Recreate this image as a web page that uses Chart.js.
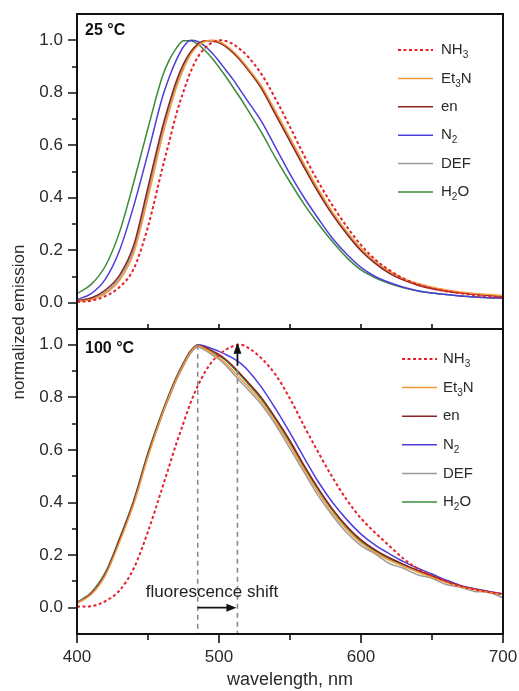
<!DOCTYPE html>
<html><head><meta charset="utf-8">
<script src="https://cdn.jsdelivr.net/npm/chart.js@4"></script>
<style>
html,body{margin:0;padding:0;background:#fff;}
#wrap{position:relative;width:519px;height:691px;}
canvas{position:absolute;left:0;top:0;}
</style></head><body>
<div id="wrap"><canvas id="c1" width="519" height="691"></canvas><canvas id="c2" width="519" height="691"></canvas></div>
<script>
// ---- data ----
const wavelengths = [400,410,420,430,440,450,460,465,470,475,480,485,490,495,500,505,510,515,520,530,540,550,560,570,580,590,600,610,620,630,640,650,660,670,680,690,700];
const seriesNames = ['NH₃','Et₃N','en','N₂','DEF','H₂O'];
const panelTitles = ['25 °C','100 °C'];

// 25 °C panel
const t25_NH3 = [.003,.008,.025,.06,.13,.29,.51, .615,.72,.805,.88,.935,.97,.99,1.0,.997,.985,.965,.94, .87,.775,.67,.56,.46,.37,.29,.22,.165,.124,.092,.07,.055,.044,.036,.029,.024,.02];
const t25_Et3N = [.005,.012,.035,.085,.19,.40,.63, .73,.82,.89,.945,.978,.995,1.0,.995,.98,.958,.93,.897, .825,.728,.628,.528,.432,.345,.272,.208,.158,.12,.092,.073,.059,.049,.041,.035,.031,.028];
const t25_en   = [.008,.018,.048,.105,.22,.44,.665, .76,.845,.91,.955,.985,.998,.998,.99,.975,.952,.924,.89, .815,.715,.615,.515,.42,.335,.262,.198,.15,.112,.086,.067,.053,.044,.037,.032,.028,.025];
const t25_N2   = [.012,.035,.09,.2,.37,.57,.78, .86,.925,.975,1.0,.995,.978,.952,.92,.885,.85,.81,.77, .69,.59,.49,.40,.32,.245,.185,.135,.10,.077,.059,.046,.037,.031,.026,.022,.019,.017];
const t25_DEF  = [.006,.015,.04,.095,.205,.42,.648, .745,.833,.9,.95,.982,.997,.999,.993,.978,.955,.927,.893, .82,.722,.622,.522,.426,.34,.267,.203,.154,.116,.089,.07,.056,.046,.039,.033,.029,.026];
const t25_H2O  = [.035,.07,.14,.27,.46,.665,.86, .925,.97,.998,.998,.985,.962,.932,.897,.86,.82,.78,.737, .648,.55,.46,.375,.30,.232,.172,.125,.095,.073,.057,.045,.037,.031,.026,.022,.019,.017];

// 100 °C panel
const t100_NH3 = [.004,.006,.025,.066,.15,.29,.455, .54,.625,.703,.78,.843,.895,.935,.962,.982,.995,1.0,.99, .948,.885,.795,.69,.59,.495,.41,.34,.285,.235,.186,.148,.122,.10,.082,.07,.06,.052];
const t100_Et3N = [.017,.05,.123,.25,.395,.575,.735, .805,.87,.925,.972,.996,.985,.968,.95,.928,.9,.872,.843, .782,.705,.618,.525,.438,.36,.297,.246,.21,.18,.157,.135,.116,.096,.08,.068,.058,.05];
const t100_en   = [.018,.053,.128,.258,.403,.582,.738, .808,.873,.928,.975,.998,.99,.978,.963,.943,.918,.89,.86, .798,.72,.635,.54,.453,.375,.31,.258,.22,.19,.165,.142,.122,.10,.083,.07,.06,.05];
const t100_N2   = [.018,.053,.128,.258,.403,.582,.738, .808,.873,.928,.975,1.0,.995,.985,.975,.962,.948,.93,.905, .838,.755,.665,.57,.478,.40,.335,.28,.238,.205,.175,.15,.128,.105,.085,.072,.062,.052];
const t100_DEF  = [.018,.055,.13,.258,.40,.578,.733, .80,.865,.92,.968,.992,.98,.962,.945,.92,.89,.86,.832, .772,.695,.605,.515,.425,.35,.285,.236,.205,.168,.15,.125,.112,.088,.078,.062,.058,.038];
const t100_H2O  = [.02,.058,.135,.265,.41,.59,.745, .815,.878,.932,.977,.998,.988,.972,.958,.94,.913,.885,.855, .792,.715,.628,.535,.448,.37,.305,.253,.216,.186,.162,.14,.12,.099,.082,.07,.06,.05];

const yTickValues = [0,0.2,0.4,0.6,0.8,1.0];
const yMinorValues = [0.1,0.3,0.5,0.7,0.9];
const xTickValues = [400,500,600,700];
const xMinorValues = [450,550,650];
const shiftFrom = 485, shiftTo = 513, shiftArrowBase = 0.92;
const shiftLabel = 'fluorescence shift';

// ---- styles ----
const FONT = "'Liberation Sans', Arial, Helvetica, sans-serif";
const colors = ['#e5202a','#f39a3a','#8a2424','#4d3ddc','#9a9a9a','#3b8a3b'];
const dashes = [[3,2.5],[],[],[],[],[]];
const widths = [2,1.5,1.5,1.5,1.5,1.5];

Chart.defaults.font.family = FONT;
Chart.defaults.color = '#2a2a2a';

const SUB = '₀₁₂₃₄₅₆₇₈₉';
function drawRich(ctx, text, x, y, size, weight) {
  let cx = x;
  ctx.textBaseline = 'middle';
  ctx.textAlign = 'left';
  for (const ch of text) {
    const k = SUB.indexOf(ch);
    if (k >= 0) {
      ctx.font = `${weight||''} ${Math.round(size*0.68)}px ${FONT}`;
      ctx.fillText(String(k), cx, y + size*0.36);
      cx += ctx.measureText(String(k)).width;
    } else {
      ctx.font = `${weight||''} ${size}px ${FONT}`;
      ctx.fillText(ch, cx, y);
      cx += ctx.measureText(ch).width;
    }
  }
}

function makeDatasets(arrays) {
  return arrays.map((arr, i) => ({
    label: seriesNames[i],
    data: wavelengths.map((w, j) => ({x: w, y: arr[j]})),
    borderColor: colors[i],
    borderWidth: widths[i],
    borderDash: dashes[i],
    pointRadius: 0,
    fill: false,
    cubicInterpolationMode: 'monotone'
  }));
}

const framePlugin = {
  id: 'frame',
  afterDraw(chart, args, o) {
    const {ctx, chartArea: a} = chart;
    const xs = chart.scales.x, ys = chart.scales.y;
    ctx.save();
    ctx.strokeStyle = '#111';
    ctx.lineWidth = 2;
    ctx.strokeRect(a.left, a.top, a.right - a.left, a.bottom - a.top);
    ctx.lineWidth = 1.6;
    ctx.beginPath();
    yTickValues.forEach(v => { const p = Math.round(ys.getPixelForValue(v)); ctx.moveTo(a.left - 9, p); ctx.lineTo(a.left, p); });
    yMinorValues.forEach(v => { const p = Math.round(ys.getPixelForValue(v)); ctx.moveTo(a.left - 5, p); ctx.lineTo(a.left, p); });
    if (o.bottom) {
      xTickValues.forEach(v => { const p = Math.round(xs.getPixelForValue(v)); ctx.moveTo(p, a.bottom); ctx.lineTo(p, a.bottom + 9); });
      xMinorValues.forEach(v => { const p = Math.round(xs.getPixelForValue(v)); ctx.moveTo(p, a.bottom); ctx.lineTo(p, a.bottom + 6); });
    }
    if (o.inner) {
      xTickValues.concat(xMinorValues).forEach(v => {
        if (v === 400 || v === 700) return;
        const p = Math.round(xs.getPixelForValue(v)); ctx.moveTo(p, a.bottom - 5); ctx.lineTo(p, a.bottom);
      });
    }
    ctx.stroke();
    ctx.restore();
  }
};

const legendPlugin = {
  id: 'inlegend',
  afterDatasetsDraw(chart, args, o) {
    const {ctx, chartArea: a} = chart;
    ctx.save();
    ctx.fillStyle = '#2a2a2a';
    chart.data.datasets.forEach((ds, i) => {
      const y = a.top + o.top + i * o.gap;
      ctx.strokeStyle = ds.borderColor;
      ctx.lineWidth = ds.borderWidth;
      ctx.setLineDash(ds.borderDash || []);
      ctx.beginPath(); ctx.moveTo(o.x0, y); ctx.lineTo(o.x1, y); ctx.stroke();
      ctx.setLineDash([]);
      drawRich(ctx, ds.label, o.tx, y, 15);
    });
    ctx.fillStyle = '#111';
    drawRich(ctx, o.title, a.left + 8, a.top + o.titleY, 16, 'bold');
    ctx.restore();
  }
};

const shiftPlugin = {
  id: 'shift',
  afterDatasetsDraw(chart) {
    const {ctx, chartArea: a} = chart;
    const xs = chart.scales.x, ys = chart.scales.y;
    const x1 = xs.getPixelForValue(shiftFrom), x2 = xs.getPixelForValue(shiftTo);
    ctx.save();
    ctx.strokeStyle = '#8a8a8a'; ctx.lineWidth = 1.6; ctx.setLineDash([5,4]);
    ctx.beginPath();
    ctx.moveTo(x1, ys.getPixelForValue(1.0)); ctx.lineTo(x1, a.bottom);
    ctx.moveTo(x2, ys.getPixelForValue(shiftArrowBase) + 4); ctx.lineTo(x2, a.bottom);
    ctx.stroke();
    ctx.setLineDash([]);
    ctx.strokeStyle = '#111'; ctx.fillStyle = '#111'; ctx.lineWidth = 1.8;
    const y0 = ys.getPixelForValue(0);
    ctx.beginPath(); ctx.moveTo(x1, y0); ctx.lineTo(x2 - 8, y0); ctx.stroke();
    ctx.beginPath(); ctx.moveTo(x2 - 1, y0); ctx.lineTo(x2 - 11, y0 - 4); ctx.lineTo(x2 - 11, y0 + 4); ctx.closePath(); ctx.fill();
    const yb = ys.getPixelForValue(shiftArrowBase), yt = ys.getPixelForValue(1.0);
    ctx.beginPath(); ctx.moveTo(x2, yb); ctx.lineTo(x2, yt + 8); ctx.stroke();
    ctx.beginPath(); ctx.moveTo(x2, yt - 2); ctx.lineTo(x2 - 4, yt + 9); ctx.lineTo(x2 + 4, yt + 9); ctx.closePath(); ctx.fill();
    ctx.fillStyle = '#222';
    ctx.font = `17px ${FONT}`;
    ctx.textAlign = 'left'; ctx.textBaseline = 'middle';
    ctx.fillText(shiftLabel, xs.getPixelForValue(448.5), ys.getPixelForValue(0.057));
    ctx.save();
    ctx.translate(19, 322);
    ctx.rotate(-Math.PI / 2);
    ctx.textAlign = 'center';
    ctx.fillStyle = '#2a2a2a';
    ctx.fillText('normalized emission', 0, 0);
    ctx.restore();
    ctx.restore();
  }
};

function yScale(min, max) {
  return {
    type: 'linear', min: min, max: max,
    afterFit: s => { s.width = 77; s.paddingTop = 0; s.paddingBottom = 0; },
    afterBuildTicks: s => { s.ticks = yTickValues.map(v => ({value: v})); },
    grid: {display: false, drawTicks: false},
    border: {display: false},
    ticks: {padding: 14, font: {size: 17}, color: '#2a2a2a', callback: v => Number(v).toFixed(1)}
  };
}

new Chart(document.getElementById('c1'), {
  type: 'line',
  data: {datasets: makeDatasets([t25_NH3, t25_Et3N, t25_en, t25_N2, t25_DEF, t25_H2O])},
  options: {
    responsive: false, animation: false, events: [],
    layout: {autoPadding: false, padding: {left: 0, right: 16, top: 14, bottom: 362}},
    plugins: {
      legend: {display: false}, tooltip: {enabled: false},
      frame: {inner: true},
      inlegend: {top: 36, gap: 28.4, x0: 398, x1: 433, tx: 441, title: panelTitles[0], titleY: 17}
    },
    scales: {
      x: {type: 'linear', min: 400, max: 700, display: false},
      y: yScale(-0.1, 1.1)
    }
  },
  plugins: [framePlugin, legendPlugin]
});

new Chart(document.getElementById('c2'), {
  type: 'line',
  data: {datasets: makeDatasets([t100_NH3, t100_Et3N, t100_en, t100_N2, t100_DEF, t100_H2O])},
  options: {
    responsive: false, animation: false, events: [],
    layout: {autoPadding: false, padding: {left: 0, right: 16, top: 329, bottom: 0}},
    plugins: {
      legend: {display: false}, tooltip: {enabled: false},
      frame: {bottom: true},
      inlegend: {top: 30, gap: 28.6, x0: 402, x1: 437, tx: 443, title: panelTitles[1], titleY: 20}
    },
    scales: {
      x: {
        type: 'linear', min: 400, max: 700,
        afterFit: s => { s.height = 57; s.paddingLeft = 0; s.paddingRight = 0; },
        afterBuildTicks: s => { s.ticks = xTickValues.map(v => ({value: v})); },
        grid: {display: false, drawTicks: false},
        border: {display: false},
        ticks: {padding: 13, font: {size: 17}, color: '#2a2a2a', maxRotation: 0},
        title: {display: true, text: 'wavelength, nm', font: {size: 18}, color: '#2a2a2a', padding: {top: 0, bottom: 0}}
      },
      y: yScale(-0.1, 1.06)
    }
  },
  plugins: [framePlugin, legendPlugin, shiftPlugin]
});
</script>
</body></html>
